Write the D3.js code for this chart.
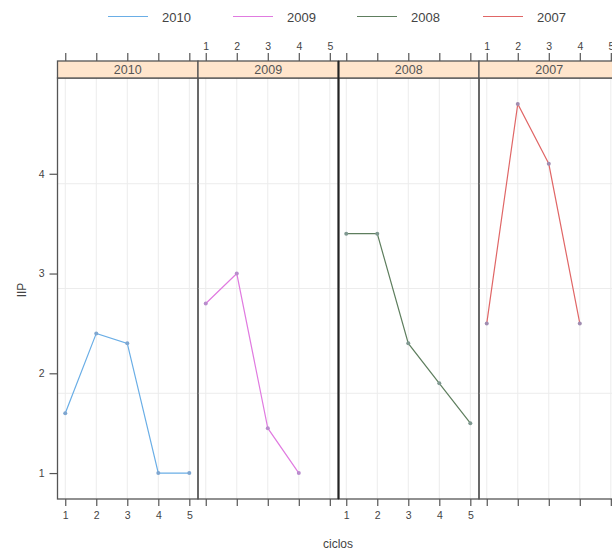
<!DOCTYPE html>
<html>
<head>
<meta charset="utf-8">
<script src="https://cdn.jsdelivr.net/npm/d3@7"></script>
<style>
  html, body { margin: 0; padding: 0; background: #fff; }
  svg { display: block; font-family: "Liberation Sans", Arial, sans-serif; }
</style>
</head>
<body>
<svg id="chart" width="612" height="551"></svg>
<script>
// ---- data ----
const years = ["2010", "2009", "2008", "2007"];
const cycles = [1, 2, 3, 4, 5];
const v2010 = [1.6, 2.4, 2.3, 1.0, 1.0];
const v2009 = [2.7, 3.0, 1.45, 1.0];
const v2008 = [3.4, 3.4, 2.3, 1.9, 1.5];
const v2007 = [2.5, 4.7, 4.1, 2.5];
const yTicks = [1, 2, 3, 4];
const gridY = [1.8, 2.85, 3.9];
const xLabel = "ciclos";
const yLabel = "IIP";
const lineColors = ["#6aaee6", "#e07be0", "#5e7e5e", "#e06666"];
const pointColors = ["#7ea6d0", "#b88ccc", "#7f9890", "#a08cb0"];

const seriesValues = [v2010, v2009, v2008, v2007];

// ---- layout ----
const svg = d3.select("#chart");
const panelLeft = 57.5, panelW = 140.5;
const panelTop = 78, panelBottom = 499;
const stripTop = 61;

const x = d3.scaleLinear().domain([0.75, 5.28]).range([0, panelW]);
const y = d3.scaleLinear().domain([0.74, 4.96]).range([panelBottom, panelTop]);

const textCol = "#444";

// legend
const legendX = [108, 233, 357, 483];
const legend = svg.append("g");
years.forEach((yr, i) => {
  legend.append("line")
    .attr("x1", legendX[i]).attr("x2", legendX[i] + 40)
    .attr("y1", 16.5).attr("y2", 16.5)
    .attr("stroke", lineColors[i]).attr("stroke-width", 1.2);
  legend.append("text")
    .attr("x", legendX[i] + 54).attr("y", 21.5)
    .attr("font-size", 13).attr("fill", textCol)
    .text(yr);
});

years.forEach((yr, i) => {
  const px = panelLeft + i * panelW;
  const g = svg.append("g").attr("transform", `translate(${px},0)`);
  const vals = seriesValues[i];
  const pts = vals.map((v, k) => ({ c: cycles[k], v }));

  // grid
  g.selectAll(".vg").data(cycles).enter().append("line")
    .attr("x1", d => x(d)).attr("x2", d => x(d))
    .attr("y1", panelTop).attr("y2", panelBottom)
    .attr("stroke", "#ececec").attr("stroke-width", 1);
  g.selectAll(".hg").data(gridY).enter().append("line")
    .attr("x1", 0).attr("x2", panelW)
    .attr("y1", d => y(d)).attr("y2", d => y(d))
    .attr("stroke", "#ececec").attr("stroke-width", 1);

  // line and points
  const line = d3.line().x(d => x(d.c)).y(d => y(d.v));
  g.append("path").datum(pts)
    .attr("d", line).attr("fill", "none")
    .attr("stroke", lineColors[i]).attr("stroke-width", 1.2);
  g.selectAll(".pt").data(pts).enter().append("circle")
    .attr("cx", d => x(d.c)).attr("cy", d => y(d.v)).attr("r", 2)
    .attr("fill", pointColors[i]);

  // panel border
  g.append("rect")
    .attr("x", 0).attr("y", panelTop).attr("width", panelW).attr("height", panelBottom - panelTop)
    .attr("fill", "none").attr("stroke", "#555").attr("stroke-width", 1.3);

  // strip
  g.append("rect")
    .attr("x", 0).attr("y", stripTop).attr("width", panelW).attr("height", panelTop - stripTop)
    .attr("fill", "#ffe5cc").attr("stroke", "#555").attr("stroke-width", 1.3);
  g.append("text")
    .attr("x", panelW / 2).attr("y", stripTop + 13)
    .attr("text-anchor", "middle").attr("font-size", 12.5).attr("fill", "#555")
    .text(yr);

  // top axis
  const topAxis = d3.axisTop(x).tickValues(cycles).tickSize(8).tickPadding(3)
    .tickFormat(i % 2 === 1 ? d3.format("d") : () => "");
  const ta = g.append("g").attr("transform", `translate(0,${stripTop})`).call(topAxis);

  // bottom axis
  const botAxis = d3.axisBottom(x).tickValues(cycles).tickSize(7).tickPadding(6)
    .tickFormat(i % 2 === 0 ? d3.format("d") : () => "");
  const ba = g.append("g").attr("transform", `translate(0,${panelBottom})`).call(botAxis);

  [ta, ba].forEach(a => {
    a.select(".domain").remove();
    a.selectAll(".tick line").attr("stroke", "#555").attr("stroke-width", 1.2);
    a.selectAll(".tick text").attr("font-size", 10.5).attr("fill", textCol)
      .attr("font-family", "Liberation Sans, Arial, sans-serif");
  });
});

// heavier divider between 2009 and 2008
svg.append("line")
  .attr("x1", panelLeft + 2 * panelW).attr("x2", panelLeft + 2 * panelW)
  .attr("y1", stripTop).attr("y2", panelBottom)
  .attr("stroke", "#222").attr("stroke-width", 2);

// left axis
const la = svg.append("g").attr("transform", `translate(${panelLeft},0)`)
  .call(d3.axisLeft(y).tickValues(yTicks).tickSize(8).tickPadding(5).tickFormat(d3.format("d")));
la.select(".domain").remove();
la.selectAll(".tick line").attr("stroke", "#555").attr("stroke-width", 1.2);
la.selectAll(".tick text").attr("font-size", 10.5).attr("fill", textCol)
  .attr("font-family", "Liberation Sans, Arial, sans-serif");

// axis titles
svg.append("text")
  .attr("x", 338).attr("y", 548)
  .attr("text-anchor", "middle").attr("font-size", 12).attr("fill", textCol)
  .text(xLabel);
svg.append("text")
  .attr("transform", "translate(26,290) rotate(-90)")
  .attr("text-anchor", "middle").attr("font-size", 12).attr("fill", textCol)
  .text(yLabel);
</script>
</body>
</html>
